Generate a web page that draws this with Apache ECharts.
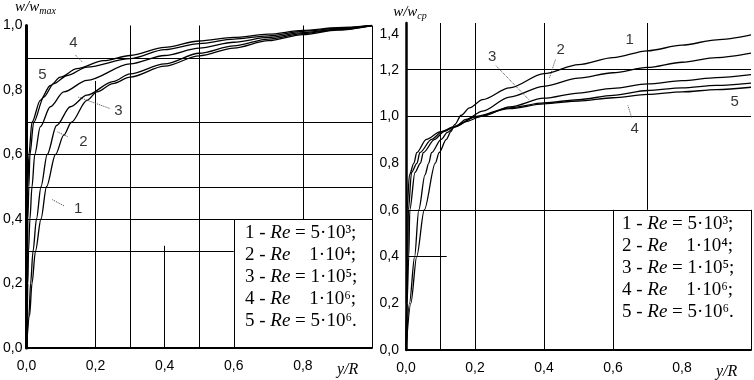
<!DOCTYPE html>
<html>
<head>
<meta charset="utf-8">
<script src="https://cdn.jsdelivr.net/npm/echarts@6/dist/echarts.min.js"></script>
<style>
  html, body { margin: 0; padding: 0; background: #fff; }
  #chart { width: 754px; height: 380px; }
</style>
</head>
<body>
<div id="chart"></div>
<script>
// левый график: w/w_max от y/R
const left1 = [[0,0],[0.009,0.1],[0.016,0.2],[0.026,0.3],[0.042,0.4],[0.058,0.5],[0.084,0.6],[0.108,0.66],[0.13,0.7],[0.175,0.768],[0.204,0.794],[0.25,0.82],[0.3,0.84],[0.4,0.874],[0.5,0.906],[0.6,0.93],[0.7,0.953],[0.8,0.972],[0.9,0.986],[1,1]];
const left2 = [[0,0],[0.007,0.1],[0.012,0.2],[0.019,0.3],[0.029,0.4],[0.042,0.5],[0.06,0.6],[0.087,0.69],[0.127,0.748],[0.175,0.784],[0.25,0.826],[0.3,0.85],[0.4,0.881],[0.5,0.914],[0.6,0.937],[0.7,0.958],[0.8,0.975],[0.9,0.987],[1,1]];
const left3 = [[0,0],[0.002,0.1],[0.004,0.2],[0.006,0.3],[0.01,0.4],[0.016,0.5],[0.024,0.6],[0.04,0.686],[0.069,0.748],[0.108,0.794],[0.175,0.83],[0.3,0.881],[0.4,0.907],[0.5,0.93],[0.6,0.948],[0.7,0.963],[0.8,0.978],[0.9,0.989],[1,1]];
const left4 = [[0,0],[0.001,0.1],[0.002,0.2],[0.003,0.3],[0.004,0.4],[0.007,0.5],[0.01,0.6],[0.021,0.7],[0.05,0.778],[0.079,0.82],[0.118,0.845],[0.175,0.871],[0.3,0.897],[0.4,0.925],[0.5,0.944],[0.6,0.958],[0.7,0.968],[0.8,0.982],[0.9,0.991],[1,1]];
const left5 = [[0,0],[0.001,0.1],[0.0012,0.2],[0.0015,0.3],[0.002,0.4],[0.004,0.5],[0.007,0.6],[0.016,0.7],[0.04,0.768],[0.069,0.814],[0.098,0.84],[0.146,0.866],[0.223,0.891],[0.3,0.907],[0.4,0.932],[0.5,0.952],[0.6,0.963],[0.7,0.973],[0.8,0.985],[0.9,0.993],[1,1]];

// правый график: w/w_ср от y/R
const right1 = [[0,0],[0.014,0.2],[0.031,0.4],[0.053,0.6],[0.085,0.8],[0.096,0.845],[0.117,0.902],[0.13,0.935],[0.141,0.965],[0.16,1.005],[0.184,1.037],[0.222,1.072],[0.3,1.122],[0.4,1.183],[0.5,1.222],[0.6,1.252],[0.7,1.281],[0.8,1.305],[0.9,1.328],[1,1.349]];
const right2 = [[0,0],[0.01,0.2],[0.025,0.4],[0.037,0.6],[0.055,0.75],[0.066,0.8],[0.074,0.845],[0.102,0.902],[0.12,0.932],[0.145,0.959],[0.174,0.987],[0.222,1.023],[0.3,1.083],[0.4,1.129],[0.5,1.164],[0.6,1.187],[0.7,1.21],[0.8,1.232],[0.9,1.252],[1,1.271]];
const right3 = [[0,0],[0.003,0.2],[0.008,0.4],[0.011,0.6],[0.026,0.76],[0.042,0.8],[0.05,0.845],[0.083,0.902],[0.11,0.935],[0.14,0.955],[0.17,0.977],[0.222,1.001],[0.3,1.041],[0.4,1.078],[0.5,1.1],[0.6,1.12],[0.7,1.139],[0.8,1.153],[0.9,1.166],[1,1.179]];
const right4 = [[0,0],[0.002,0.2],[0.005,0.4],[0.007,0.6],[0.016,0.76],[0.032,0.8],[0.04,0.845],[0.074,0.902],[0.105,0.935],[0.14,0.955],[0.2,0.999],[0.3,1.037],[0.4,1.058],[0.5,1.072],[0.6,1.09],[0.7,1.111],[0.8,1.122],[0.9,1.133],[1,1.143]];
const right5 = [[0,0],[0.001,0.2],[0.002,0.4],[0.003,0.6],[0.01,0.75],[0.023,0.8],[0.031,0.845],[0.059,0.902],[0.1,0.935],[0.14,0.955],[0.2,0.997],[0.3,1.033],[0.4,1.054],[0.5,1.066],[0.6,1.08],[0.7,1.094],[0.8,1.105],[0.9,1.115],[1,1.125]];

// номера кривых [текст, x, y]
const leftTags = [['1',0.15,0.431],['2',0.165,0.64],['3',0.266,0.735],['4',0.136,0.945],['5',0.046,0.846]];
const rightTags = [['1',0.648,1.328],['2',0.448,1.285],['3',0.25,1.255],['4',0.663,0.945],['5',0.953,1.064]];
// выноски
const leftLeaders = [[[0.075,0.46],[0.11,0.44]],[[0.09,0.67],[0.12,0.655]],[[0.15,0.778],[0.243,0.742]],[[0.142,0.908],[0.162,0.886]]];
const rightLeaders = [[[0.433,1.243],[0.416,1.166]],[[0.261,1.217],[0.356,1.072]],[[0.654,0.996],[0.643,1.047]]];

// сетка (отрезки в единицах осей)
const leftGridLines = [
  [[0,0.9],[1,0.9]],[[0,0.7],[1,0.7]],[[0,0.6],[1,0.6]],[[0,0.5],[1,0.5]],[[0,0.4],[1,0.4]],[[0,0.3],[0.6,0.3]],
  [[0.2,0],[0.2,0.828]],[[0.3,0],[0.3,1]],[[0.4,0],[0.4,0.317]],[[0.5,0],[0.5,1]],[[0.6,0],[0.6,0.4]],[[0.8,0.4],[0.8,1]],[[1,0],[1,1]]
];
const rightGridLines = [
  [[0,1.2],[1,1.2]],[[0,1.0],[1,1.0]],[[0,0.6],[1,0.6]],[[0,0.4],[0.118,0.4]],
  [[0.1,0],[0.1,1.4]],[[0.2,0],[0.2,1.4]],[[0.4,0],[0.4,1.4]],[[0.6,0],[0.6,0.6]],[[0.7,0.6],[0.7,1.4]],[[1,0],[1,0.6]]
];

const legendNums = ['1', '2', '3', '4', '5'];
const legendValues = [' = 5·10³;', '    1·10⁴;', ' = 1·10⁵;', '    1·10⁶;', ' = 5·10⁶.'];

const fmt = (v) => v.toFixed(1).replace('.', ',');

var echart = echarts.init(document.getElementById('chart'));

const legendText = legendNums.map((n, i) => '{n|' + n + ' - }{i|Re}{n|' + legendValues[i] + '}').join('\n');
const legendRich = {
  n: { fontFamily: 'Liberation Serif', fontWeight: 'normal', fontSize: 19, lineHeight: 22, color: '#000' },
  i: { fontFamily: 'Liberation Serif', fontWeight: 'normal', fontStyle: 'italic', fontSize: 19, lineHeight: 22, color: '#000' },
};

const nameRich = {
  a: { fontFamily: 'Liberation Serif', fontStyle: 'italic', fontSize: 15, color: '#000' },
  s: { fontFamily: 'Liberation Serif', fontStyle: 'italic', fontSize: 10, color: '#000', padding: [8, 0, 0, 0] },
};

function curve(data, idx) {
  return {
    type: 'line',
    xAxisIndex: idx,
    yAxisIndex: idx,
    data: data,
    showSymbol: false,
    smooth: 0.3,
    smoothMonotone: 'x',
    lineStyle: { color: '#000', width: 1.3 },
    z: 3,
  };
}

function marks(tags, gridLines, leaders, idx) {
  const lines = gridLines.map((s) => [{ coord: s[0] }, { coord: s[1] }]);
  leaders.forEach((s) => {
    lines.push([{ coord: s[0], lineStyle: { type: 'dotted', width: 1, color: '#444' } }, { coord: s[1] }]);
  });
  return {
    type: 'scatter',
    xAxisIndex: idx,
    yAxisIndex: idx,
    symbolSize: 1,
    itemStyle: { color: 'rgba(0,0,0,0)' },
    data: tags.map((t) => ({ name: t[0], value: [t[1], t[2]] })),
    label: {
      show: true,
      formatter: '{b}',
      position: 'inside',
      color: '#000',
      fontFamily: 'Liberation Sans',
      fontSize: 15,
    },
    markLine: {
      silent: true,
      symbol: ['none', 'none'],
      label: { show: false },
      lineStyle: { color: '#000', width: 1, type: 'solid' },
      data: lines,
    },
    z: 2,
  };
}

function xAxis(idx) {
  return {
    gridIndex: idx,
    type: 'value',
    min: 0,
    max: 1,
    interval: 0.2,
    axisLine: { lineStyle: { color: '#000', width: 2 } },
    axisTick: { show: false },
    splitLine: { show: false },
    axisLabel: {
      formatter: (v) => (v === 1 ? '' : fmt(v)),
      color: '#000',
      fontFamily: 'Liberation Sans',
      fontSize: 14,
      margin: 11,
    },
    name: 'y/R',
    nameLocation: 'end',
    nameGap: -35,
    nameTextStyle: {
      fontFamily: 'Liberation Serif',
      fontStyle: 'italic',
      fontSize: 16,
      color: '#000',
      verticalAlign: 'top',
      padding: [14, 0, 0, 0],
    },
  };
}

const option = {
  animation: false,
  backgroundColor: '#fff',
  grid: [
    { left: 26, top: 23, width: 346, height: 325 },
    { left: 406, top: 23, width: 347, height: 329 },
  ],
  xAxis: [xAxis(0), xAxis(1)],
  yAxis: [
    {
      gridIndex: 0,
      type: 'value',
      min: 0,
      max: 1,
      interval: 0.2,
      axisLine: { show: true, lineStyle: { color: '#000', width: 3 } },
      axisTick: { show: false },
      splitLine: { show: false },
      axisLabel: { formatter: fmt, color: '#000', fontFamily: 'Liberation Sans', fontSize: 14, margin: 4 },
      name: '{a|w/w}{s|max}',
      nameLocation: 'end',
      nameGap: 9,
      nameTextStyle: { align: 'center', padding: [0, 0, 0, 18], rich: nameRich },
    },
    {
      gridIndex: 1,
      type: 'value',
      min: 0,
      max: 1.4,
      interval: 0.2,
      axisLine: { show: true, lineStyle: { color: '#000', width: 2.5 } },
      axisTick: { show: false },
      splitLine: { show: false },
      axisLabel: {
        formatter: (v) => (v > 1.35 ? '{d|' + fmt(v) + '}' : fmt(v)),
        color: '#000',
        fontFamily: 'Liberation Sans',
        fontSize: 14,
        margin: 7,
        rich: { d: { fontFamily: 'Liberation Sans', fontSize: 14, color: '#000', padding: [22, 0, 0, 0] } },
      },
      name: '{a|w/w}{s|ср}',
      nameLocation: 'end',
      nameGap: 2,
      nameTextStyle: { align: 'center', padding: [0, 0, 0, 8], rich: nameRich },
    },
  ],
  title: [
    { left: 245, top: 222, padding: 0, text: legendText, textStyle: { fontWeight: 'normal', rich: legendRich } },
    { left: 622, top: 213, padding: 0, text: legendText, textStyle: { fontWeight: 'normal', rich: legendRich } },
  ],
  series: [
    curve(left1, 0), curve(left2, 0), curve(left3, 0), curve(left4, 0), curve(left5, 0),
    curve(right1, 1), curve(right2, 1), curve(right3, 1), curve(right4, 1), curve(right5, 1),
    marks(leftTags, leftGridLines, leftLeaders, 0),
    marks(rightTags, rightGridLines, rightLeaders, 1),
  ],
};
echart.setOption(option);
</script>
</body>
</html>
